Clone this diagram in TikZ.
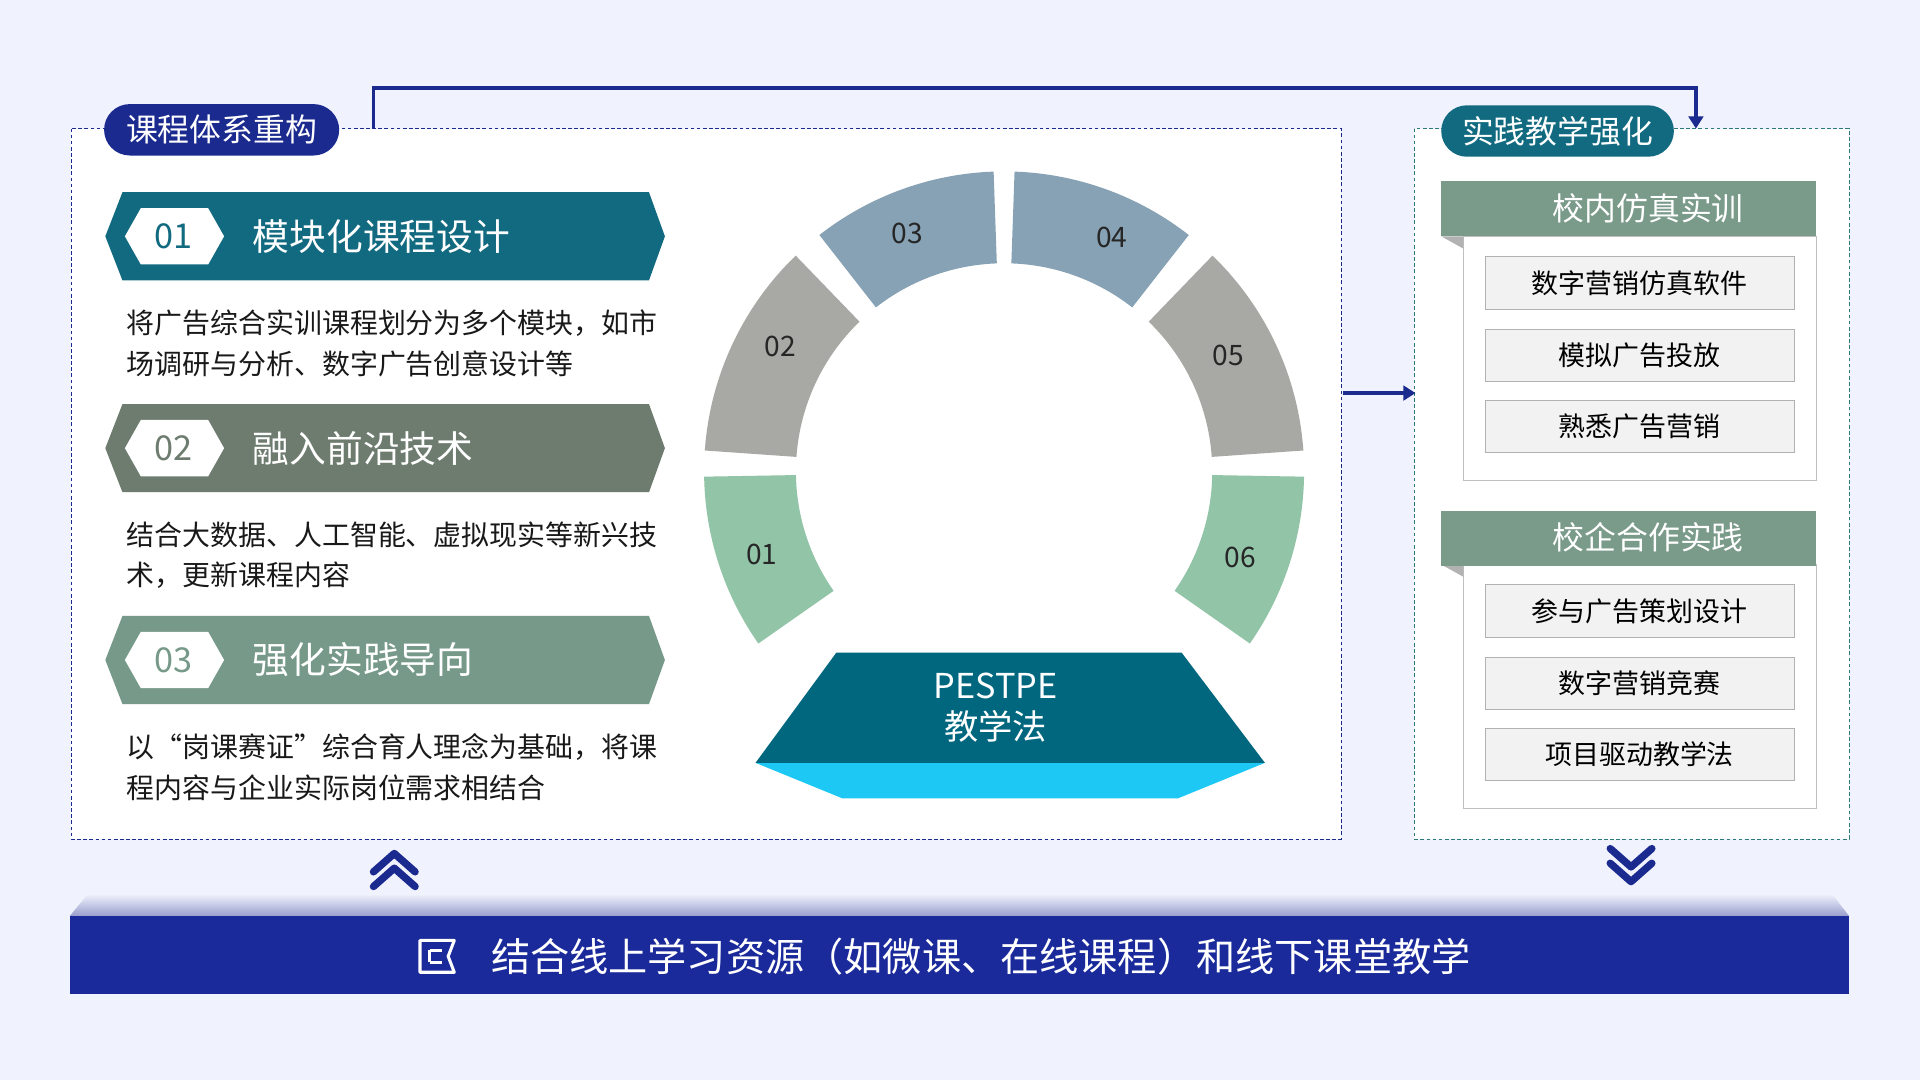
\documentclass[tikz,border=0pt]{standalone}
\usepackage{fontspec}
\setmainfont{Noto Sans CJK SC}
\usetikzlibrary{arrows.meta}
\definecolor{bg}{HTML}{F0F2FD}
\definecolor{navy}{HTML}{1B2A8F}
\definecolor{tealD}{HTML}{126A80}
\definecolor{tealL}{HTML}{2B7A78}
\definecolor{gray1}{HTML}{6E7C70}
\definecolor{green1}{HTML}{77998A}
\definecolor{hdr}{HTML}{7A9A8A}
\definecolor{segG}{HTML}{92C4A8}
\definecolor{segS}{HTML}{A8A9A4}
\definecolor{segB}{HTML}{86A2B4}
\definecolor{pest}{HTML}{00677F}
\definecolor{cyanb}{HTML}{1EC8F5}
\definecolor{barc}{HTML}{1A2A9A}
\tikzset{
  pill/.style={rounded corners=21pt,text=white,font=\fontsize{26}{30}\selectfont,inner sep=0},
  ptext/.style={anchor=west,font=\fontsize{22.8}{26}\selectfont,text=black!90},
  btitle/.style={anchor=west,text=white,font=\fontsize{30}{34}\selectfont},
  bnum/.style={font=\fontsize{28}{32}\selectfont},
  seglab/.style={font=\fontsize{23}{26}\selectfont,text=black!85},
  item/.style={draw=black!30,fill=black!5,minimum width=252pt,minimum height=43pt,font=\fontsize{22}{26}\selectfont,inner sep=0},
  hdrs/.style={fill=hdr,minimum width=306pt,minimum height=45pt,text=white,font=\fontsize{26}{30}\selectfont,inner sep=0},
  chev/.style={navy,line width=6pt,line cap=round,line join=round},
  dsh/.style={dash pattern=on 3pt off 2pt}
}
\begin{document}
\begin{tikzpicture}[x=1pt,y=-1pt]
\fill[bg] (0,0) rectangle (1568,882);
\useasboundingbox (0,0) rectangle (1568,882);
% boxes
\draw[navy,dsh,fill=white] (58,105) rectangle (1095,685);
\draw[tealL,dsh,fill=white] (1155,105) rectangle (1510,685);
\node[pill,fill=navy,minimum width=192pt,minimum height=42pt] (lp) at (181,106) {课程体系重构};
\node[pill,fill=tealD,minimum width=190pt,minimum height=42pt] (rp) at (1272,107) {实践教学强化};
\coordinate (c1) at (305,105); \coordinate (c2) at (1385,105);
\draw[navy,line width=3pt,-{Triangle[length=10pt,width=12pt]}] (c1) -- (305,72) -- (1385,72) -- (c2);
\coordinate (a1) at (1097,321); \coordinate (a2) at (1156,321);
\draw[navy,line width=3pt,-{Triangle[length=10pt,width=12pt]}] (a1) -- (a2);
% banners
\foreach \y/\c/\n/\t in {193/tealD/01/模块化课程设计,366/gray1/02/融入前沿技术,539/green1/03/强化实践导向}{
  \fill[\c] (100,\y-36) -- (530,\y-36) -- (543,\y) -- (530,\y+36) -- (100,\y+36) -- (86,\y) -- cycle;
  \fill[white] (115,\y-23) -- (170,\y-23) -- (183,\y) -- (170,\y+23) -- (115,\y+23) -- (102,\y) -- cycle;
  \node[bnum,text=\c] at (142,\y) {\n};
  \node[btitle] at (203,\y) {\t};
}
\node[ptext] (p1a) at (100,264) {将广告综合实训课程划分为多个模块，如市};
\node[ptext] (p1b) at (100,297) {场调研与分析、数字广告创意设计等};
\node[ptext] (p2a) at (100,437) {结合大数据、人工智能、虚拟现实等新兴技};
\node[ptext] (p2b) at (100,470) {术，更新课程内容};
\node[ptext] (p3a) at (100,610) {以“岗课赛证”综合育人理念为基础，将课};
\node[ptext] (p3b) at (100,643) {程内容与企业实际岗位需求相结合};
% ring
\begin{scope}[shift={(820,385)}]
\foreach \a/\b/\c in {145/179/segG,184/226/segS,232/268/segB,272/308/segB,314/356/segS,1/35/segG}{
  \fill[\c] (\a:245) arc[start angle=\a,end angle=\b,radius=245] -- (\b:170) arc[start angle=\b,end angle=\a,radius=170] -- cycle;
}
\end{scope}
\node[seglab] (s1) at (622,453) {01};
\node[seglab] (s2) at (637,283) {02};
\node[seglab] (s3) at (741,191) {03};
\node[seglab] (s4) at (908,194) {04};
\node[seglab] (s5) at (1003,290) {05};
\node[seglab] (s6) at (1013,455) {06};
% PESTPE
\fill[cyanb] (617,623) -- (1033,623) -- (962,652) -- (688,652) -- cycle;
\fill[pest] (683,533) -- (965,533) -- (1033,623) -- (617,623) -- cycle;
\node[text=white,font=\fontsize{28}{34}\selectfont,align=center] (pe) at (813,578) {PESTPE\\教学法};
% right side
\foreach \hy/\hb/\t/\ia/\ib/\ic in {170/193/校内仿真实训/数字营销仿真软件/模拟广告投放/熟悉广告营销,439/461/校企合作实践/参与广告策划设计/数字营销竞赛/项目驱动教学法}{
  \draw[black!25,fill=white] (1195,\hb) rectangle (1483,\hb+199);
  \fill[black!30] (1177,\hb) -- (1195,\hb) -- (1195,\hb+10) -- cycle;
  \fill[hdr] (1177,\hy-22) rectangle (1483,\hy+23);
  \node[text=white,font=\fontsize{26}{30}\selectfont] at (1346,\hy) {\t};
  \node[item] at (1339,\hb+38) {\ia};
  \node[item] at (1339,\hb+97) {\ib};
  \node[item] at (1339,\hb+155) {\ic};
}
% bottom
\shade[top color=bg,bottom color=navy!45] (72,730) -- (1496,730) -- (1510,748) -- (57,748) -- cycle;
\fill[barc] (57,748) rectangle (1510,812);
\node[text=white,font=\fontsize{32}{36}\selectfont] (bt) at (801,781) {结合线上学习资源（如微课、在线课程）和线下课堂教学};
\draw[white,line width=2.5pt,line join=round] (343,768) -- (371,768) -- (366,781) -- (371,794) -- (343,794) -- cycle;
\draw[white,line width=2.5pt] (351,776) -- (361,776) (351,786) -- (361,786) (351,776)--(351,786);
\draw[chev] (305,712) -- (322,697) -- (339,712);
\draw[chev] (305,724) -- (322,709) -- (339,724);
\draw[chev] (1315,693) -- (1332,708) -- (1349,693);
\draw[chev] (1315,705) -- (1332,720) -- (1349,705);
\end{tikzpicture}
\end{document}
